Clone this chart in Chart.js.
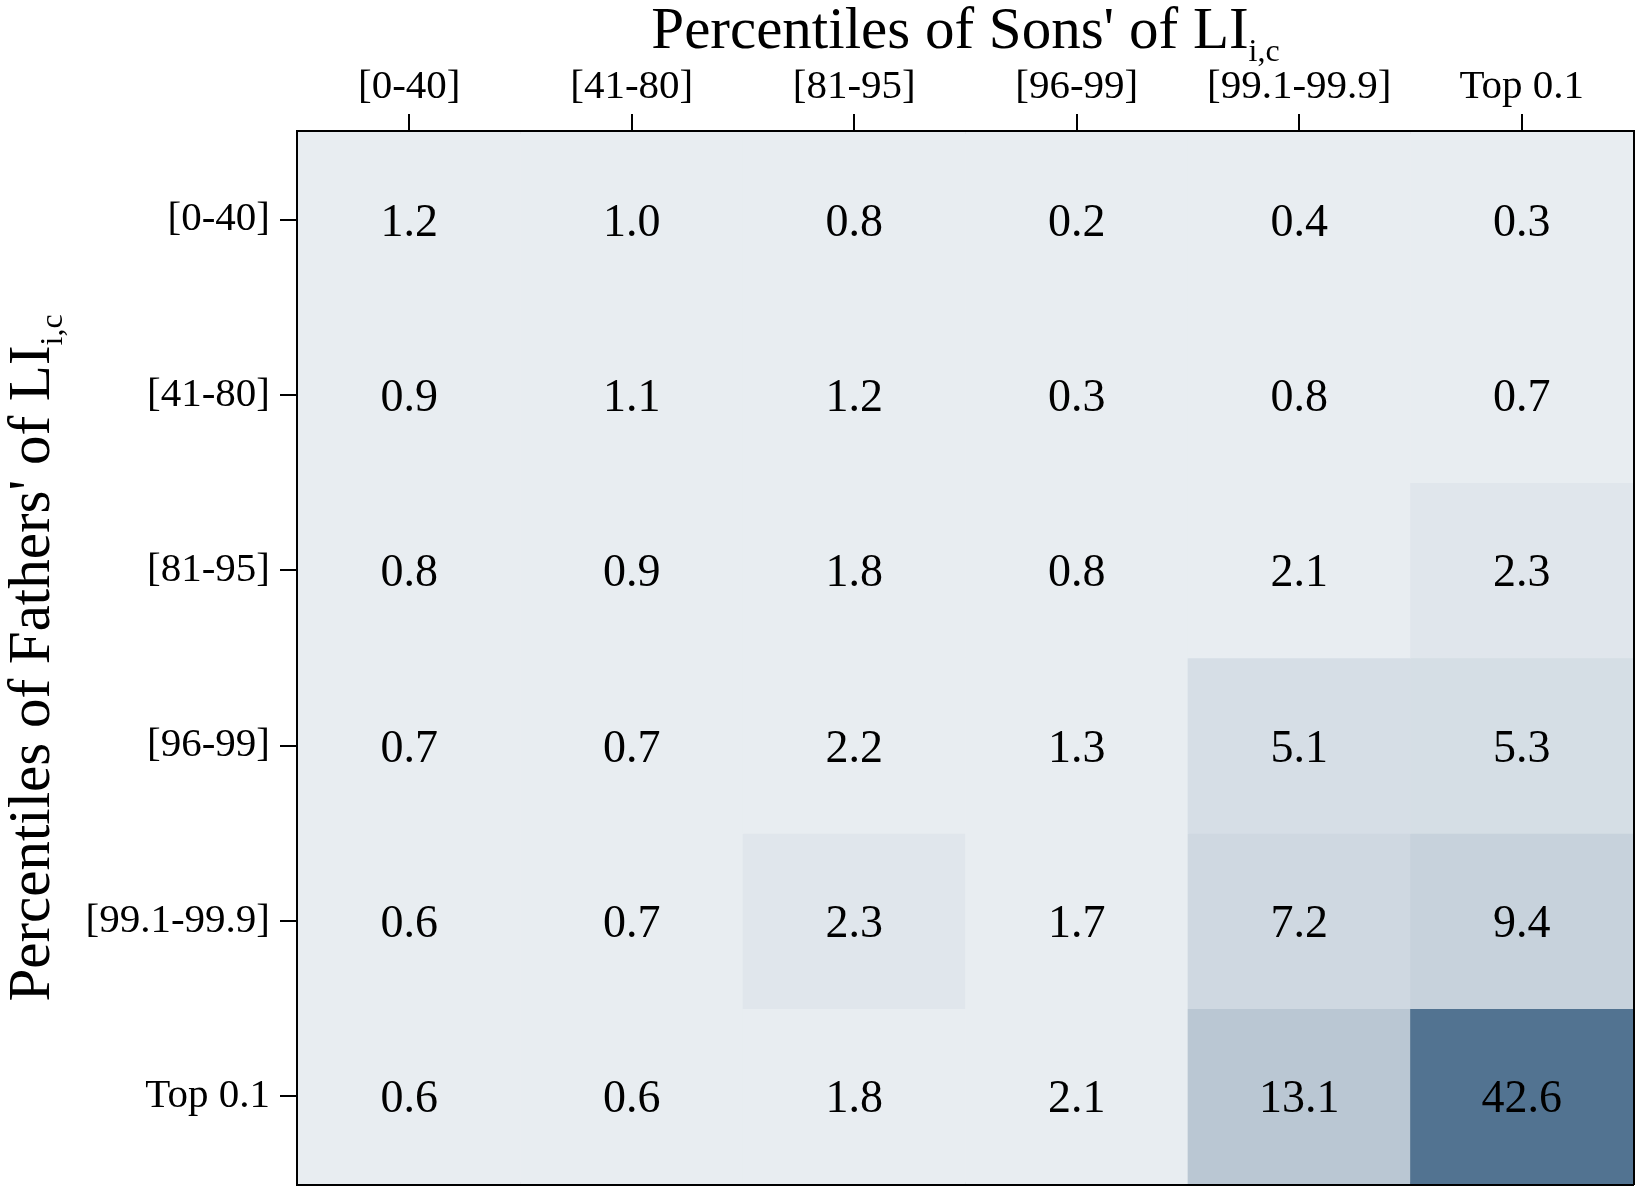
<!DOCTYPE html>
<html>
<head>
<meta charset="utf-8">
<script src="https://cdn.jsdelivr.net/npm/chart.js@4"></script>
<style>
html,body{margin:0;padding:0;background:#fff;}
#wrap{width:1639px;height:1189px;position:relative;}
</style>
</head>
<body>
<div id="wrap"><canvas id="c" width="1639" height="1189"></canvas></div>
<script>
// Sons' percentile categories (columns)
const sonsLabels = ['[0-40]', '[41-80]', '[81-95]', '[96-99]', '[99.1-99.9]', 'Top 0.1'];
// Fathers' percentile categories (rows, top to bottom)
const fathersLabels = ['[0-40]', '[41-80]', '[81-95]', '[96-99]', '[99.1-99.9]', 'Top 0.1'];
// Cell values, one array per fathers' row
const row0_40    = [1.2, 1.0, 0.8, 0.2, 0.4, 0.3];
const row41_80   = [0.9, 1.1, 1.2, 0.3, 0.8, 0.7];
const row81_95   = [0.8, 0.9, 1.8, 0.8, 2.1, 2.3];
const row96_99   = [0.7, 0.7, 2.2, 1.3, 5.1, 5.3];
const row991_999 = [0.6, 0.7, 2.3, 1.7, 7.2, 9.4];
const rowTop01   = [0.6, 0.6, 1.8, 2.1, 13.1, 42.6];
const rows = [row0_40, row41_80, row81_95, row96_99, row991_999, rowTop01];

const FONT = "'Liberation Serif', 'Times New Roman', serif";
const BASE = [232, 237, 241];
const DARK = [82, 115, 145];
const VMAX = 42.6;
function cellColor(v) {
  if (v < 2.25) return `rgb(${BASE.join(',')})`;
  const t = Math.min(1, v / VMAX);
  const c = BASE.map((b, i) => Math.round(b + (DARK[i] - b) * t));
  return `rgb(${c.join(',')})`;
}

const datasets = rows.map((vals, r) => ({
  label: fathersLabels[r],
  data: vals.map(() => [r, r + 1]),
  values: vals,
  backgroundColor: vals.map(cellColor),
  borderWidth: 0,
  barPercentage: 1,
  categoryPercentage: 1,
  grouped: false,
  xAxisID: 'x',
  yAxisID: 'y'
}));

const valueLabels = {
  id: 'valueLabels',
  afterDatasetsDraw(chart) {
    const ctx = chart.ctx;
    ctx.save();
    ctx.font = `46px ${FONT}`;
    ctx.fillStyle = '#000';
    ctx.textAlign = 'center';
    ctx.textBaseline = 'middle';
    chart.data.datasets.forEach((ds, di) => {
      const meta = chart.getDatasetMeta(di);
      meta.data.forEach((el, i) => {
        const p = el.getCenterPoint();
        ctx.fillText(ds.values[i].toFixed(1), p.x, p.y + 4);
      });
    });
    ctx.restore();
  }
};

function drawSubTitle(ctx, main, sub, mainSize, subSize, subDrop) {
  ctx.font = `${mainSize}px ${FONT}`;
  const wm = ctx.measureText(main).width;
  ctx.font = `${subSize}px ${FONT}`;
  const ws = ctx.measureText(sub).width;
  const total = wm + ws;
  ctx.textAlign = 'left';
  ctx.textBaseline = 'alphabetic';
  ctx.font = `${mainSize}px ${FONT}`;
  ctx.fillText(main, -total / 2, 0);
  ctx.font = `${subSize}px ${FONT}`;
  ctx.fillText(sub, -total / 2 + wm, subDrop);
}

const axisTitles = {
  id: 'axisTitles',
  afterDraw(chart) {
    const ctx = chart.ctx;
    const a = chart.chartArea;
    ctx.save();
    ctx.fillStyle = '#000';
    ctx.translate((a.left + a.right) / 2, 48);
    drawSubTitle(ctx, "Percentiles of Sons' of LI", 'i,c', 59, 32, 13);
    ctx.restore();
    ctx.save();
    ctx.fillStyle = '#000';
    ctx.translate(49, (a.top + a.bottom) / 2);
    ctx.rotate(-Math.PI / 2);
    drawSubTitle(ctx, "Percentiles of Fathers' of LI", 'i,c', 59, 32, 13);
    ctx.restore();
  }
};

new Chart(document.getElementById('c'), {
  type: 'bar',
  data: { labels: sonsLabels, datasets },
  options: {
    responsive: false,
    animation: false,
    devicePixelRatio: 1,
    layout: { padding: 0, autoPadding: false },
    plugins: { legend: { display: false }, tooltip: { enabled: false }, title: { display: false } },
    scales: {
      x: {
        type: 'category',
        position: 'top',
        offset: true,
        grid: { display: true, offset: false, drawOnChartArea: false, drawTicks: true, tickLength: 18, color: '#000', lineWidth: 2 },
        border: { display: true, color: '#000', width: 4 },
        ticks: { color: '#000', font: { family: FONT, size: 41 }, padding: 2, maxRotation: 0, autoSkip: false },
        afterFit(s) { s.height = 132; s.paddingLeft = 0; s.paddingRight = 0; }
      },
      x2: {
        type: 'category',
        position: 'bottom',
        labels: sonsLabels,
        grid: { display: false, drawOnChartArea: false, drawTicks: false },
        border: { display: true, color: '#000', width: 4 },
        ticks: { display: false },
        afterFit(s) { s.height = 5; s.paddingLeft = 0; s.paddingRight = 0; }
      },
      y: {
        type: 'linear',
        position: 'left',
        min: 0,
        max: 6,
        reverse: true,
        afterBuildTicks(s) { s.ticks = [0.5, 1.5, 2.5, 3.5, 4.5, 5.5].map(v => ({ value: v })); },
        grid: { display: true, drawOnChartArea: false, drawTicks: true, tickLength: 18, color: '#000', lineWidth: 2 },
        border: { display: true, color: '#000', width: 4 },
        ticks: {
          color: '#000', font: { family: FONT, size: 41 }, padding: 10,
          callback(v) { return fathersLabels[Math.floor(v)]; }
        },
        afterFit(s) { s.width = 298; s.paddingTop = 0; s.paddingBottom = 0; }
      },
      y2: {
        type: 'linear',
        position: 'right',
        min: 0,
        max: 6,
        grid: { display: false, drawOnChartArea: false },
        border: { display: true, color: '#000', width: 4 },
        ticks: { display: false },
        afterFit(s) { s.width = 6; s.paddingTop = 0; s.paddingBottom = 0; }
      }
    }
  },
  plugins: [valueLabels, axisTitles]
});
</script>
</body>
</html>
